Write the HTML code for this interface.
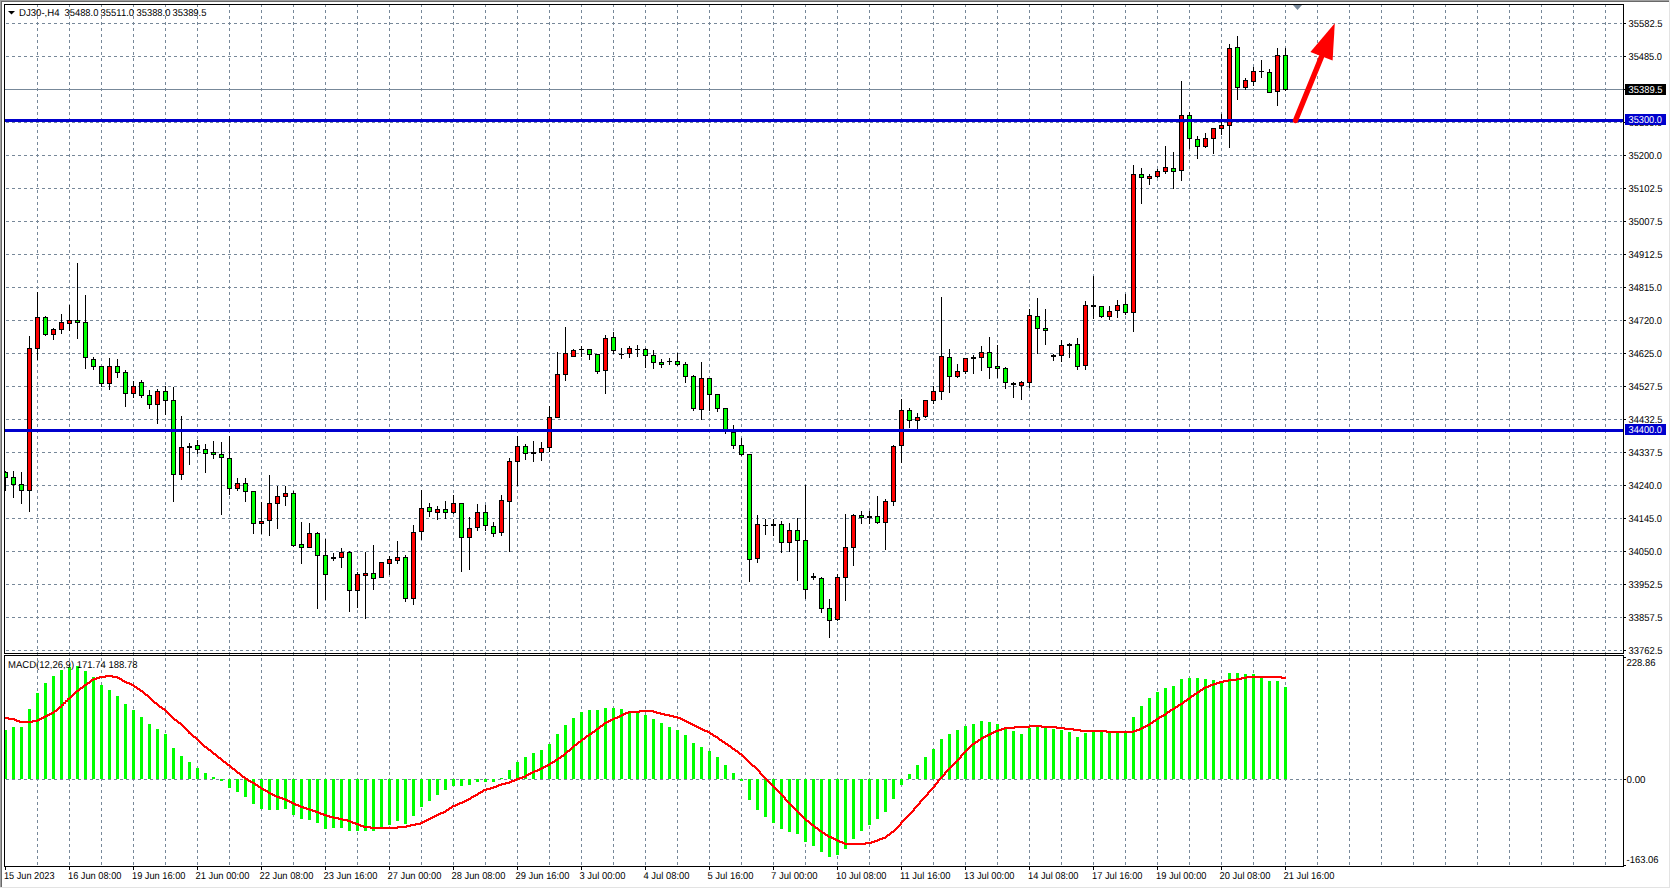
<!DOCTYPE html><html><head><meta charset="utf-8"><title>DJ30 H4</title><style>html,body{margin:0;padding:0;background:#fff;width:1671px;height:889px;overflow:hidden}svg text{font-family:"Liberation Sans", sans-serif}</style></head><body><svg width="1671" height="889" viewBox="0 0 1671 889" style="display:block" font-family='"Liberation Sans", sans-serif'><defs><clipPath id="cm"><rect x="5" y="5" width="1618" height="648"/></clipPath><clipPath id="cd"><rect x="5" y="656" width="1618" height="210"/></clipPath><clipPath id="call"><rect x="5" y="5" width="1618" height="861"/></clipPath><clipPath id="cgm"><rect x="5" y="5" width="1617" height="648"/></clipPath><clipPath id="cgd"><rect x="5" y="656" width="1617" height="210"/></clipPath></defs><rect x="0" y="0" width="1671" height="889" fill="#ffffff"/><g shape-rendering="crispEdges"><rect x="0" y="0" width="1669" height="1" fill="#a0a0a0"/><rect x="0" y="0" width="1" height="887" fill="#a0a0a0"/><rect x="1" y="1" width="1668" height="1" fill="#696969"/><rect x="1" y="1" width="1" height="886" fill="#696969"/><rect x="1669" y="0" width="1" height="888" fill="#e3e3e3"/><rect x="0" y="887" width="1670" height="1" fill="#e3e3e3"/></g><g shape-rendering="crispEdges" stroke="#778899" stroke-width="1" stroke-dasharray="3 3" fill="none"><g clip-path="url(#call)"><line x1="37.5" y1="-2" x2="37.5" y2="870"/><line x1="69.5" y1="-2" x2="69.5" y2="870"/><line x1="101.5" y1="-2" x2="101.5" y2="870"/><line x1="133.5" y1="-2" x2="133.5" y2="870"/><line x1="165.5" y1="-2" x2="165.5" y2="870"/><line x1="197.5" y1="-2" x2="197.5" y2="870"/><line x1="229.5" y1="-2" x2="229.5" y2="870"/><line x1="261.5" y1="-2" x2="261.5" y2="870"/><line x1="293.5" y1="-2" x2="293.5" y2="870"/><line x1="325.5" y1="-2" x2="325.5" y2="870"/><line x1="357.5" y1="-2" x2="357.5" y2="870"/><line x1="389.5" y1="-2" x2="389.5" y2="870"/><line x1="421.5" y1="-2" x2="421.5" y2="870"/><line x1="453.5" y1="-2" x2="453.5" y2="870"/><line x1="485.5" y1="-2" x2="485.5" y2="870"/><line x1="517.5" y1="-2" x2="517.5" y2="870"/><line x1="549.5" y1="-2" x2="549.5" y2="870"/><line x1="581.5" y1="-2" x2="581.5" y2="870"/><line x1="613.5" y1="-2" x2="613.5" y2="870"/><line x1="645.5" y1="-2" x2="645.5" y2="870"/><line x1="677.5" y1="-2" x2="677.5" y2="870"/><line x1="709.5" y1="-2" x2="709.5" y2="870"/><line x1="741.5" y1="-2" x2="741.5" y2="870"/><line x1="773.5" y1="-2" x2="773.5" y2="870"/><line x1="805.5" y1="-2" x2="805.5" y2="870"/><line x1="837.5" y1="-2" x2="837.5" y2="870"/><line x1="869.5" y1="-2" x2="869.5" y2="870"/><line x1="901.5" y1="-2" x2="901.5" y2="870"/><line x1="933.5" y1="-2" x2="933.5" y2="870"/><line x1="965.5" y1="-2" x2="965.5" y2="870"/><line x1="997.5" y1="-2" x2="997.5" y2="870"/><line x1="1029.5" y1="-2" x2="1029.5" y2="870"/><line x1="1061.5" y1="-2" x2="1061.5" y2="870"/><line x1="1093.5" y1="-2" x2="1093.5" y2="870"/><line x1="1125.5" y1="-2" x2="1125.5" y2="870"/><line x1="1157.5" y1="-2" x2="1157.5" y2="870"/><line x1="1189.5" y1="-2" x2="1189.5" y2="870"/><line x1="1221.5" y1="-2" x2="1221.5" y2="870"/><line x1="1253.5" y1="-2" x2="1253.5" y2="870"/><line x1="1285.5" y1="-2" x2="1285.5" y2="870"/><line x1="1317.5" y1="-2" x2="1317.5" y2="870"/><line x1="1349.5" y1="-2" x2="1349.5" y2="870"/><line x1="1381.5" y1="-2" x2="1381.5" y2="870"/><line x1="1413.5" y1="-2" x2="1413.5" y2="870"/><line x1="1445.5" y1="-2" x2="1445.5" y2="870"/><line x1="1477.5" y1="-2" x2="1477.5" y2="870"/><line x1="1509.5" y1="-2" x2="1509.5" y2="870"/><line x1="1541.5" y1="-2" x2="1541.5" y2="870"/><line x1="1573.5" y1="-2" x2="1573.5" y2="870"/><line x1="1605.5" y1="-2" x2="1605.5" y2="870"/></g><g clip-path="url(#cgm)"><line x1="0" y1="23.5" x2="1626" y2="23.5"/><line x1="0" y1="56.5" x2="1626" y2="56.5"/><line x1="0" y1="89.5" x2="1626" y2="89.5"/><line x1="0" y1="122.5" x2="1626" y2="122.5"/><line x1="0" y1="155.5" x2="1626" y2="155.5"/><line x1="0" y1="188.5" x2="1626" y2="188.5"/><line x1="0" y1="221.5" x2="1626" y2="221.5"/><line x1="0" y1="254.5" x2="1626" y2="254.5"/><line x1="0" y1="287.5" x2="1626" y2="287.5"/><line x1="0" y1="320.5" x2="1626" y2="320.5"/><line x1="0" y1="353.5" x2="1626" y2="353.5"/><line x1="0" y1="386.5" x2="1626" y2="386.5"/><line x1="0" y1="419.5" x2="1626" y2="419.5"/><line x1="0" y1="452.5" x2="1626" y2="452.5"/><line x1="0" y1="485.5" x2="1626" y2="485.5"/><line x1="0" y1="518.5" x2="1626" y2="518.5"/><line x1="0" y1="551.5" x2="1626" y2="551.5"/><line x1="0" y1="584.5" x2="1626" y2="584.5"/><line x1="0" y1="617.5" x2="1626" y2="617.5"/><line x1="0" y1="650.5" x2="1626" y2="650.5"/></g><g clip-path="url(#cgd)"><line x1="0" y1="779.5" x2="1626" y2="779.5"/></g></g><rect x="5" y="89" width="1618" height="1" fill="#778899" shape-rendering="crispEdges"/><g clip-path="url(#cm)" shape-rendering="crispEdges"><rect x="5" y="471" width="1" height="20" fill="#000"/><rect x="3" y="472" width="5" height="6" fill="#000"/><rect x="4" y="473" width="3" height="4" fill="#00ff00"/><rect x="13" y="471" width="1" height="27" fill="#000"/><rect x="11" y="477" width="5" height="8" fill="#000"/><rect x="12" y="478" width="3" height="6" fill="#00ff00"/><rect x="21" y="472" width="1" height="32" fill="#000"/><rect x="19" y="484" width="5" height="7" fill="#000"/><rect x="20" y="485" width="3" height="5" fill="#00ff00"/><rect x="29" y="336" width="1" height="176" fill="#000"/><rect x="27" y="348" width="5" height="143" fill="#000"/><rect x="28" y="349" width="3" height="141" fill="#ff0000"/><rect x="37" y="292" width="1" height="68" fill="#000"/><rect x="35" y="317" width="5" height="32" fill="#000"/><rect x="36" y="318" width="3" height="30" fill="#ff0000"/><rect x="45" y="316" width="1" height="20" fill="#000"/><rect x="43" y="317" width="5" height="18" fill="#000"/><rect x="44" y="318" width="3" height="16" fill="#00ff00"/><rect x="53" y="328" width="1" height="12" fill="#000"/><rect x="51" y="329" width="5" height="6" fill="#000"/><rect x="52" y="330" width="3" height="4" fill="#ff0000"/><rect x="61" y="314" width="1" height="20" fill="#000"/><rect x="59" y="322" width="5" height="8" fill="#000"/><rect x="60" y="323" width="3" height="6" fill="#ff0000"/><rect x="69" y="305" width="1" height="26" fill="#000"/><rect x="67" y="320" width="5" height="4" fill="#000"/><rect x="68" y="321" width="3" height="2" fill="#ff0000"/><rect x="77" y="263" width="1" height="76" fill="#000"/><rect x="75" y="320" width="5" height="3" fill="#000"/><rect x="76" y="321" width="3" height="1" fill="#00ff00"/><rect x="85" y="295" width="1" height="74" fill="#000"/><rect x="83" y="322" width="5" height="36" fill="#000"/><rect x="84" y="323" width="3" height="34" fill="#00ff00"/><rect x="93" y="357" width="1" height="13" fill="#000"/><rect x="91" y="359" width="5" height="8" fill="#000"/><rect x="92" y="360" width="3" height="6" fill="#00ff00"/><rect x="101" y="366" width="1" height="21" fill="#000"/><rect x="99" y="366" width="5" height="18" fill="#000"/><rect x="100" y="367" width="3" height="16" fill="#00ff00"/><rect x="109" y="358" width="1" height="32" fill="#000"/><rect x="107" y="366" width="5" height="18" fill="#000"/><rect x="108" y="367" width="3" height="16" fill="#ff0000"/><rect x="117" y="359" width="1" height="19" fill="#000"/><rect x="115" y="366" width="5" height="7" fill="#000"/><rect x="116" y="367" width="3" height="5" fill="#00ff00"/><rect x="125" y="370" width="1" height="37" fill="#000"/><rect x="123" y="372" width="5" height="22" fill="#000"/><rect x="124" y="373" width="3" height="20" fill="#00ff00"/><rect x="133" y="381" width="1" height="17" fill="#000"/><rect x="131" y="386" width="5" height="8" fill="#000"/><rect x="132" y="387" width="3" height="6" fill="#ff0000"/><rect x="141" y="380" width="1" height="18" fill="#000"/><rect x="139" y="382" width="5" height="14" fill="#000"/><rect x="140" y="383" width="3" height="12" fill="#00ff00"/><rect x="149" y="390" width="1" height="19" fill="#000"/><rect x="147" y="395" width="5" height="10" fill="#000"/><rect x="148" y="396" width="3" height="8" fill="#00ff00"/><rect x="157" y="389" width="1" height="35" fill="#000"/><rect x="155" y="391" width="5" height="14" fill="#000"/><rect x="156" y="392" width="3" height="12" fill="#ff0000"/><rect x="165" y="386" width="1" height="29" fill="#000"/><rect x="163" y="391" width="5" height="10" fill="#000"/><rect x="164" y="392" width="3" height="8" fill="#00ff00"/><rect x="173" y="387" width="1" height="115" fill="#000"/><rect x="171" y="400" width="5" height="75" fill="#000"/><rect x="172" y="401" width="3" height="73" fill="#00ff00"/><rect x="181" y="416" width="1" height="64" fill="#000"/><rect x="179" y="447" width="5" height="28" fill="#000"/><rect x="180" y="448" width="3" height="26" fill="#ff0000"/><rect x="189" y="443" width="1" height="22" fill="#000"/><rect x="187" y="446" width="5" height="2" fill="#000"/><rect x="197" y="440" width="1" height="14" fill="#000"/><rect x="195" y="445" width="5" height="5" fill="#000"/><rect x="196" y="446" width="3" height="3" fill="#00ff00"/><rect x="205" y="444" width="1" height="29" fill="#000"/><rect x="203" y="449" width="5" height="5" fill="#000"/><rect x="204" y="450" width="3" height="3" fill="#00ff00"/><rect x="213" y="441" width="1" height="18" fill="#000"/><rect x="211" y="452" width="5" height="3" fill="#000"/><rect x="212" y="453" width="3" height="1" fill="#00ff00"/><rect x="221" y="442" width="1" height="73" fill="#000"/><rect x="219" y="454" width="5" height="4" fill="#000"/><rect x="220" y="455" width="3" height="2" fill="#00ff00"/><rect x="229" y="436" width="1" height="59" fill="#000"/><rect x="227" y="458" width="5" height="31" fill="#000"/><rect x="228" y="459" width="3" height="29" fill="#00ff00"/><rect x="237" y="478" width="1" height="13" fill="#000"/><rect x="235" y="483" width="5" height="6" fill="#000"/><rect x="236" y="484" width="3" height="4" fill="#ff0000"/><rect x="245" y="478" width="1" height="24" fill="#000"/><rect x="243" y="483" width="5" height="9" fill="#000"/><rect x="244" y="484" width="3" height="7" fill="#00ff00"/><rect x="253" y="491" width="1" height="43" fill="#000"/><rect x="251" y="491" width="5" height="33" fill="#000"/><rect x="252" y="492" width="3" height="31" fill="#00ff00"/><rect x="261" y="502" width="1" height="32" fill="#000"/><rect x="259" y="521" width="5" height="3" fill="#000"/><rect x="260" y="522" width="3" height="1" fill="#ff0000"/><rect x="269" y="475" width="1" height="61" fill="#000"/><rect x="267" y="503" width="5" height="18" fill="#000"/><rect x="268" y="504" width="3" height="16" fill="#ff0000"/><rect x="277" y="486" width="1" height="43" fill="#000"/><rect x="275" y="496" width="5" height="8" fill="#000"/><rect x="276" y="497" width="3" height="6" fill="#ff0000"/><rect x="285" y="486" width="1" height="20" fill="#000"/><rect x="283" y="493" width="5" height="4" fill="#000"/><rect x="284" y="494" width="3" height="2" fill="#ff0000"/><rect x="293" y="491" width="1" height="56" fill="#000"/><rect x="291" y="493" width="5" height="53" fill="#000"/><rect x="292" y="494" width="3" height="51" fill="#00ff00"/><rect x="301" y="522" width="1" height="42" fill="#000"/><rect x="299" y="544" width="5" height="4" fill="#000"/><rect x="300" y="545" width="3" height="2" fill="#00ff00"/><rect x="309" y="523" width="1" height="25" fill="#000"/><rect x="307" y="533" width="5" height="15" fill="#000"/><rect x="308" y="534" width="3" height="13" fill="#ff0000"/><rect x="317" y="532" width="1" height="77" fill="#000"/><rect x="315" y="533" width="5" height="23" fill="#000"/><rect x="316" y="534" width="3" height="21" fill="#00ff00"/><rect x="325" y="539" width="1" height="61" fill="#000"/><rect x="323" y="555" width="5" height="20" fill="#000"/><rect x="324" y="556" width="3" height="18" fill="#00ff00"/><rect x="333" y="553" width="1" height="8" fill="#000"/><rect x="331" y="557" width="5" height="2" fill="#000"/><rect x="341" y="548" width="1" height="20" fill="#000"/><rect x="339" y="552" width="5" height="6" fill="#000"/><rect x="340" y="553" width="3" height="4" fill="#ff0000"/><rect x="349" y="551" width="1" height="61" fill="#000"/><rect x="347" y="552" width="5" height="39" fill="#000"/><rect x="348" y="553" width="3" height="37" fill="#00ff00"/><rect x="357" y="572" width="1" height="36" fill="#000"/><rect x="355" y="574" width="5" height="17" fill="#000"/><rect x="356" y="575" width="3" height="15" fill="#ff0000"/><rect x="365" y="552" width="1" height="67" fill="#000"/><rect x="363" y="573" width="5" height="3" fill="#000"/><rect x="364" y="574" width="3" height="1" fill="#ff0000"/><rect x="373" y="545" width="1" height="45" fill="#000"/><rect x="371" y="573" width="5" height="6" fill="#000"/><rect x="372" y="574" width="3" height="4" fill="#00ff00"/><rect x="381" y="562" width="1" height="16" fill="#000"/><rect x="379" y="562" width="5" height="16" fill="#000"/><rect x="380" y="563" width="3" height="14" fill="#ff0000"/><rect x="389" y="556" width="1" height="19" fill="#000"/><rect x="387" y="559" width="5" height="5" fill="#000"/><rect x="388" y="560" width="3" height="3" fill="#ff0000"/><rect x="397" y="541" width="1" height="23" fill="#000"/><rect x="395" y="557" width="5" height="4" fill="#000"/><rect x="396" y="558" width="3" height="2" fill="#ff0000"/><rect x="405" y="555" width="1" height="47" fill="#000"/><rect x="403" y="557" width="5" height="42" fill="#000"/><rect x="404" y="558" width="3" height="40" fill="#00ff00"/><rect x="413" y="525" width="1" height="80" fill="#000"/><rect x="411" y="532" width="5" height="67" fill="#000"/><rect x="412" y="533" width="3" height="65" fill="#ff0000"/><rect x="421" y="490" width="1" height="50" fill="#000"/><rect x="419" y="508" width="5" height="24" fill="#000"/><rect x="420" y="509" width="3" height="22" fill="#ff0000"/><rect x="429" y="503" width="1" height="14" fill="#000"/><rect x="427" y="507" width="5" height="5" fill="#000"/><rect x="428" y="508" width="3" height="3" fill="#00ff00"/><rect x="437" y="506" width="1" height="14" fill="#000"/><rect x="435" y="509" width="5" height="4" fill="#000"/><rect x="436" y="510" width="3" height="2" fill="#ff0000"/><rect x="445" y="501" width="1" height="18" fill="#000"/><rect x="443" y="509" width="5" height="4" fill="#000"/><rect x="444" y="510" width="3" height="2" fill="#00ff00"/><rect x="453" y="495" width="1" height="19" fill="#000"/><rect x="451" y="503" width="5" height="10" fill="#000"/><rect x="452" y="504" width="3" height="8" fill="#ff0000"/><rect x="461" y="503" width="1" height="69" fill="#000"/><rect x="459" y="503" width="5" height="35" fill="#000"/><rect x="460" y="504" width="3" height="33" fill="#00ff00"/><rect x="469" y="517" width="1" height="53" fill="#000"/><rect x="467" y="528" width="5" height="10" fill="#000"/><rect x="468" y="529" width="3" height="8" fill="#ff0000"/><rect x="477" y="504" width="1" height="27" fill="#000"/><rect x="475" y="512" width="5" height="16" fill="#000"/><rect x="476" y="513" width="3" height="14" fill="#ff0000"/><rect x="485" y="505" width="1" height="26" fill="#000"/><rect x="483" y="512" width="5" height="14" fill="#000"/><rect x="484" y="513" width="3" height="12" fill="#00ff00"/><rect x="493" y="522" width="1" height="15" fill="#000"/><rect x="491" y="526" width="5" height="8" fill="#000"/><rect x="492" y="527" width="3" height="6" fill="#00ff00"/><rect x="501" y="495" width="1" height="41" fill="#000"/><rect x="499" y="500" width="5" height="33" fill="#000"/><rect x="500" y="501" width="3" height="31" fill="#ff0000"/><rect x="509" y="458" width="1" height="94" fill="#000"/><rect x="507" y="461" width="5" height="41" fill="#000"/><rect x="508" y="462" width="3" height="39" fill="#ff0000"/><rect x="517" y="436" width="1" height="50" fill="#000"/><rect x="515" y="446" width="5" height="16" fill="#000"/><rect x="516" y="447" width="3" height="14" fill="#ff0000"/><rect x="525" y="444" width="1" height="16" fill="#000"/><rect x="523" y="446" width="5" height="8" fill="#000"/><rect x="524" y="447" width="3" height="6" fill="#00ff00"/><rect x="533" y="441" width="1" height="21" fill="#000"/><rect x="531" y="452" width="5" height="2" fill="#000"/><rect x="541" y="442" width="1" height="19" fill="#000"/><rect x="539" y="448" width="5" height="5" fill="#000"/><rect x="540" y="449" width="3" height="3" fill="#ff0000"/><rect x="549" y="406" width="1" height="46" fill="#000"/><rect x="547" y="417" width="5" height="31" fill="#000"/><rect x="548" y="418" width="3" height="29" fill="#ff0000"/><rect x="557" y="352" width="1" height="66" fill="#000"/><rect x="555" y="374" width="5" height="44" fill="#000"/><rect x="556" y="375" width="3" height="42" fill="#ff0000"/><rect x="565" y="327" width="1" height="54" fill="#000"/><rect x="563" y="353" width="5" height="22" fill="#000"/><rect x="564" y="354" width="3" height="20" fill="#ff0000"/><rect x="573" y="349" width="1" height="8" fill="#000"/><rect x="571" y="350" width="5" height="7" fill="#000"/><rect x="572" y="351" width="3" height="5" fill="#ff0000"/><rect x="581" y="346" width="1" height="11" fill="#000"/><rect x="579" y="349" width="5" height="1" fill="#000"/><rect x="589" y="349" width="1" height="11" fill="#000"/><rect x="587" y="349" width="5" height="6" fill="#000"/><rect x="588" y="350" width="3" height="4" fill="#00ff00"/><rect x="597" y="354" width="1" height="20" fill="#000"/><rect x="595" y="354" width="5" height="18" fill="#000"/><rect x="596" y="355" width="3" height="16" fill="#00ff00"/><rect x="605" y="335" width="1" height="59" fill="#000"/><rect x="603" y="338" width="5" height="33" fill="#000"/><rect x="604" y="339" width="3" height="31" fill="#ff0000"/><rect x="613" y="332" width="1" height="22" fill="#000"/><rect x="611" y="337" width="5" height="14" fill="#000"/><rect x="612" y="338" width="3" height="12" fill="#00ff00"/><rect x="621" y="348" width="1" height="11" fill="#000"/><rect x="619" y="354" width="5" height="1" fill="#000"/><rect x="629" y="346" width="1" height="12" fill="#000"/><rect x="627" y="348" width="5" height="6" fill="#000"/><rect x="628" y="349" width="3" height="4" fill="#ff0000"/><rect x="637" y="345" width="1" height="12" fill="#000"/><rect x="635" y="349" width="5" height="1" fill="#000"/><rect x="645" y="348" width="1" height="20" fill="#000"/><rect x="643" y="349" width="5" height="7" fill="#000"/><rect x="644" y="350" width="3" height="5" fill="#00ff00"/><rect x="653" y="350" width="1" height="19" fill="#000"/><rect x="651" y="355" width="5" height="8" fill="#000"/><rect x="652" y="356" width="3" height="6" fill="#00ff00"/><rect x="661" y="359" width="1" height="9" fill="#000"/><rect x="659" y="362" width="5" height="3" fill="#000"/><rect x="660" y="363" width="3" height="1" fill="#00ff00"/><rect x="669" y="358" width="1" height="7" fill="#000"/><rect x="667" y="361" width="5" height="1" fill="#000"/><rect x="677" y="353" width="1" height="13" fill="#000"/><rect x="675" y="361" width="5" height="4" fill="#000"/><rect x="676" y="362" width="3" height="2" fill="#00ff00"/><rect x="685" y="362" width="1" height="21" fill="#000"/><rect x="683" y="364" width="5" height="13" fill="#000"/><rect x="684" y="365" width="3" height="11" fill="#00ff00"/><rect x="693" y="375" width="1" height="36" fill="#000"/><rect x="691" y="376" width="5" height="33" fill="#000"/><rect x="692" y="377" width="3" height="31" fill="#00ff00"/><rect x="701" y="362" width="1" height="58" fill="#000"/><rect x="699" y="378" width="5" height="32" fill="#000"/><rect x="700" y="379" width="3" height="30" fill="#ff0000"/><rect x="709" y="378" width="1" height="33" fill="#000"/><rect x="707" y="378" width="5" height="17" fill="#000"/><rect x="708" y="379" width="3" height="15" fill="#00ff00"/><rect x="717" y="394" width="1" height="18" fill="#000"/><rect x="715" y="394" width="5" height="15" fill="#000"/><rect x="716" y="395" width="3" height="13" fill="#00ff00"/><rect x="725" y="408" width="1" height="26" fill="#000"/><rect x="723" y="408" width="5" height="22" fill="#000"/><rect x="724" y="409" width="3" height="20" fill="#00ff00"/><rect x="733" y="425" width="1" height="24" fill="#000"/><rect x="731" y="432" width="5" height="14" fill="#000"/><rect x="732" y="433" width="3" height="12" fill="#00ff00"/><rect x="741" y="438" width="1" height="18" fill="#000"/><rect x="739" y="445" width="5" height="10" fill="#000"/><rect x="740" y="446" width="3" height="8" fill="#00ff00"/><rect x="749" y="454" width="1" height="128" fill="#000"/><rect x="747" y="454" width="5" height="106" fill="#000"/><rect x="748" y="455" width="3" height="104" fill="#00ff00"/><rect x="757" y="515" width="1" height="48" fill="#000"/><rect x="755" y="524" width="5" height="35" fill="#000"/><rect x="756" y="525" width="3" height="33" fill="#ff0000"/><rect x="765" y="519" width="1" height="16" fill="#000"/><rect x="763" y="525" width="5" height="1" fill="#000"/><rect x="773" y="519" width="1" height="17" fill="#000"/><rect x="771" y="524" width="5" height="2" fill="#000"/><rect x="781" y="521" width="1" height="32" fill="#000"/><rect x="779" y="524" width="5" height="19" fill="#000"/><rect x="780" y="525" width="3" height="17" fill="#00ff00"/><rect x="789" y="523" width="1" height="29" fill="#000"/><rect x="787" y="530" width="5" height="13" fill="#000"/><rect x="788" y="531" width="3" height="11" fill="#ff0000"/><rect x="797" y="518" width="1" height="63" fill="#000"/><rect x="795" y="530" width="5" height="11" fill="#000"/><rect x="796" y="531" width="3" height="9" fill="#00ff00"/><rect x="805" y="485" width="1" height="114" fill="#000"/><rect x="803" y="540" width="5" height="50" fill="#000"/><rect x="804" y="541" width="3" height="48" fill="#00ff00"/><rect x="813" y="573" width="1" height="7" fill="#000"/><rect x="811" y="576" width="5" height="2" fill="#000"/><rect x="821" y="577" width="1" height="36" fill="#000"/><rect x="819" y="578" width="5" height="31" fill="#000"/><rect x="820" y="579" width="3" height="29" fill="#00ff00"/><rect x="829" y="599" width="1" height="39" fill="#000"/><rect x="827" y="608" width="5" height="13" fill="#000"/><rect x="828" y="609" width="3" height="11" fill="#00ff00"/><rect x="837" y="574" width="1" height="47" fill="#000"/><rect x="835" y="577" width="5" height="43" fill="#000"/><rect x="836" y="578" width="3" height="41" fill="#ff0000"/><rect x="845" y="514" width="1" height="87" fill="#000"/><rect x="843" y="547" width="5" height="31" fill="#000"/><rect x="844" y="548" width="3" height="29" fill="#ff0000"/><rect x="853" y="514" width="1" height="52" fill="#000"/><rect x="851" y="515" width="5" height="33" fill="#000"/><rect x="852" y="516" width="3" height="31" fill="#ff0000"/><rect x="861" y="511" width="1" height="13" fill="#000"/><rect x="859" y="515" width="5" height="3" fill="#000"/><rect x="860" y="516" width="3" height="1" fill="#00ff00"/><rect x="869" y="511" width="1" height="13" fill="#000"/><rect x="867" y="516" width="5" height="2" fill="#000"/><rect x="877" y="496" width="1" height="28" fill="#000"/><rect x="875" y="516" width="5" height="7" fill="#000"/><rect x="876" y="517" width="3" height="5" fill="#00ff00"/><rect x="885" y="499" width="1" height="51" fill="#000"/><rect x="883" y="501" width="5" height="22" fill="#000"/><rect x="884" y="502" width="3" height="20" fill="#ff0000"/><rect x="893" y="445" width="1" height="61" fill="#000"/><rect x="891" y="446" width="5" height="56" fill="#000"/><rect x="892" y="447" width="3" height="54" fill="#ff0000"/><rect x="901" y="399" width="1" height="64" fill="#000"/><rect x="899" y="410" width="5" height="36" fill="#000"/><rect x="900" y="411" width="3" height="34" fill="#ff0000"/><rect x="909" y="408" width="1" height="20" fill="#000"/><rect x="907" y="410" width="5" height="11" fill="#000"/><rect x="908" y="411" width="3" height="9" fill="#00ff00"/><rect x="917" y="413" width="1" height="17" fill="#000"/><rect x="915" y="417" width="5" height="4" fill="#000"/><rect x="916" y="418" width="3" height="2" fill="#ff0000"/><rect x="925" y="400" width="1" height="18" fill="#000"/><rect x="923" y="400" width="5" height="17" fill="#000"/><rect x="924" y="401" width="3" height="15" fill="#ff0000"/><rect x="933" y="386" width="1" height="18" fill="#000"/><rect x="931" y="391" width="5" height="10" fill="#000"/><rect x="932" y="392" width="3" height="8" fill="#ff0000"/><rect x="941" y="297" width="1" height="103" fill="#000"/><rect x="939" y="356" width="5" height="36" fill="#000"/><rect x="940" y="357" width="3" height="34" fill="#ff0000"/><rect x="949" y="349" width="1" height="44" fill="#000"/><rect x="947" y="357" width="5" height="20" fill="#000"/><rect x="948" y="358" width="3" height="18" fill="#00ff00"/><rect x="957" y="364" width="1" height="14" fill="#000"/><rect x="955" y="371" width="5" height="6" fill="#000"/><rect x="956" y="372" width="3" height="4" fill="#ff0000"/><rect x="965" y="358" width="1" height="16" fill="#000"/><rect x="963" y="358" width="5" height="14" fill="#000"/><rect x="964" y="359" width="3" height="12" fill="#ff0000"/><rect x="973" y="355" width="1" height="19" fill="#000"/><rect x="971" y="357" width="5" height="2" fill="#000"/><rect x="981" y="346" width="1" height="25" fill="#000"/><rect x="979" y="352" width="5" height="6" fill="#000"/><rect x="980" y="353" width="3" height="4" fill="#ff0000"/><rect x="989" y="337" width="1" height="42" fill="#000"/><rect x="987" y="352" width="5" height="16" fill="#000"/><rect x="988" y="353" width="3" height="14" fill="#00ff00"/><rect x="997" y="345" width="1" height="33" fill="#000"/><rect x="995" y="366" width="5" height="3" fill="#000"/><rect x="996" y="367" width="3" height="1" fill="#00ff00"/><rect x="1005" y="367" width="1" height="22" fill="#000"/><rect x="1003" y="368" width="5" height="15" fill="#000"/><rect x="1004" y="369" width="3" height="13" fill="#00ff00"/><rect x="1013" y="382" width="1" height="16" fill="#000"/><rect x="1011" y="383" width="5" height="2" fill="#000"/><rect x="1021" y="381" width="1" height="19" fill="#000"/><rect x="1019" y="382" width="5" height="4" fill="#000"/><rect x="1020" y="383" width="3" height="2" fill="#ff0000"/><rect x="1029" y="309" width="1" height="79" fill="#000"/><rect x="1027" y="315" width="5" height="68" fill="#000"/><rect x="1028" y="316" width="3" height="66" fill="#ff0000"/><rect x="1037" y="298" width="1" height="56" fill="#000"/><rect x="1035" y="316" width="5" height="13" fill="#000"/><rect x="1036" y="317" width="3" height="11" fill="#00ff00"/><rect x="1045" y="309" width="1" height="36" fill="#000"/><rect x="1043" y="328" width="5" height="3" fill="#000"/><rect x="1044" y="329" width="3" height="1" fill="#00ff00"/><rect x="1053" y="354" width="1" height="7" fill="#000"/><rect x="1051" y="355" width="5" height="2" fill="#000"/><rect x="1061" y="340" width="1" height="22" fill="#000"/><rect x="1059" y="345" width="5" height="11" fill="#000"/><rect x="1060" y="346" width="3" height="9" fill="#ff0000"/><rect x="1069" y="343" width="1" height="15" fill="#000"/><rect x="1067" y="344" width="5" height="2" fill="#000"/><rect x="1077" y="338" width="1" height="32" fill="#000"/><rect x="1075" y="344" width="5" height="23" fill="#000"/><rect x="1076" y="345" width="3" height="21" fill="#00ff00"/><rect x="1085" y="301" width="1" height="69" fill="#000"/><rect x="1083" y="305" width="5" height="61" fill="#000"/><rect x="1084" y="306" width="3" height="59" fill="#ff0000"/><rect x="1093" y="276" width="1" height="43" fill="#000"/><rect x="1091" y="305" width="5" height="2" fill="#000"/><rect x="1101" y="306" width="1" height="12" fill="#000"/><rect x="1099" y="306" width="5" height="11" fill="#000"/><rect x="1100" y="307" width="3" height="9" fill="#00ff00"/><rect x="1109" y="306" width="1" height="14" fill="#000"/><rect x="1107" y="311" width="5" height="6" fill="#000"/><rect x="1108" y="312" width="3" height="4" fill="#ff0000"/><rect x="1117" y="300" width="1" height="18" fill="#000"/><rect x="1115" y="305" width="5" height="6" fill="#000"/><rect x="1116" y="306" width="3" height="4" fill="#ff0000"/><rect x="1125" y="294" width="1" height="21" fill="#000"/><rect x="1123" y="304" width="5" height="9" fill="#000"/><rect x="1124" y="305" width="3" height="7" fill="#00ff00"/><rect x="1133" y="165" width="1" height="167" fill="#000"/><rect x="1131" y="174" width="5" height="139" fill="#000"/><rect x="1132" y="175" width="3" height="137" fill="#ff0000"/><rect x="1141" y="168" width="1" height="36" fill="#000"/><rect x="1139" y="174" width="5" height="4" fill="#000"/><rect x="1140" y="175" width="3" height="2" fill="#00ff00"/><rect x="1149" y="174" width="1" height="11" fill="#000"/><rect x="1147" y="176" width="5" height="3" fill="#000"/><rect x="1148" y="177" width="3" height="1" fill="#ff0000"/><rect x="1157" y="169" width="1" height="9" fill="#000"/><rect x="1155" y="171" width="5" height="6" fill="#000"/><rect x="1156" y="172" width="3" height="4" fill="#ff0000"/><rect x="1165" y="146" width="1" height="28" fill="#000"/><rect x="1163" y="167" width="5" height="5" fill="#000"/><rect x="1164" y="168" width="3" height="3" fill="#ff0000"/><rect x="1173" y="152" width="1" height="37" fill="#000"/><rect x="1171" y="168" width="5" height="4" fill="#000"/><rect x="1172" y="169" width="3" height="2" fill="#00ff00"/><rect x="1181" y="81" width="1" height="100" fill="#000"/><rect x="1179" y="115" width="5" height="56" fill="#000"/><rect x="1180" y="116" width="3" height="54" fill="#ff0000"/><rect x="1189" y="112" width="1" height="37" fill="#000"/><rect x="1187" y="115" width="5" height="24" fill="#000"/><rect x="1188" y="116" width="3" height="22" fill="#00ff00"/><rect x="1197" y="136" width="1" height="23" fill="#000"/><rect x="1195" y="139" width="5" height="8" fill="#000"/><rect x="1196" y="140" width="3" height="6" fill="#00ff00"/><rect x="1205" y="133" width="1" height="15" fill="#000"/><rect x="1203" y="138" width="5" height="9" fill="#000"/><rect x="1204" y="139" width="3" height="7" fill="#ff0000"/><rect x="1213" y="128" width="1" height="26" fill="#000"/><rect x="1211" y="128" width="5" height="11" fill="#000"/><rect x="1212" y="129" width="3" height="9" fill="#ff0000"/><rect x="1221" y="114" width="1" height="21" fill="#000"/><rect x="1219" y="125" width="5" height="4" fill="#000"/><rect x="1220" y="126" width="3" height="2" fill="#ff0000"/><rect x="1229" y="44" width="1" height="104" fill="#000"/><rect x="1227" y="48" width="5" height="78" fill="#000"/><rect x="1228" y="49" width="3" height="76" fill="#ff0000"/><rect x="1237" y="36" width="1" height="64" fill="#000"/><rect x="1235" y="47" width="5" height="41" fill="#000"/><rect x="1236" y="48" width="3" height="39" fill="#00ff00"/><rect x="1245" y="78" width="1" height="12" fill="#000"/><rect x="1243" y="80" width="5" height="8" fill="#000"/><rect x="1244" y="81" width="3" height="6" fill="#ff0000"/><rect x="1253" y="67" width="1" height="19" fill="#000"/><rect x="1251" y="71" width="5" height="11" fill="#000"/><rect x="1252" y="72" width="3" height="9" fill="#ff0000"/><rect x="1261" y="60" width="1" height="18" fill="#000"/><rect x="1259" y="71" width="5" height="1" fill="#000"/><rect x="1269" y="69" width="1" height="24" fill="#000"/><rect x="1267" y="72" width="5" height="21" fill="#000"/><rect x="1268" y="73" width="3" height="19" fill="#00ff00"/><rect x="1277" y="48" width="1" height="58" fill="#000"/><rect x="1275" y="55" width="5" height="37" fill="#000"/><rect x="1276" y="56" width="3" height="35" fill="#ff0000"/><rect x="1285" y="48" width="1" height="43" fill="#000"/><rect x="1283" y="55" width="5" height="35" fill="#000"/><rect x="1284" y="56" width="3" height="33" fill="#00ff00"/></g><g clip-path="url(#cd)" shape-rendering="crispEdges" fill="#00ff00"><rect x="4" y="730" width="3" height="49"/><rect x="12" y="727" width="3" height="52"/><rect x="20" y="727" width="3" height="52"/><rect x="28" y="709" width="3" height="70"/><rect x="36" y="693" width="3" height="86"/><rect x="44" y="683" width="3" height="96"/><rect x="52" y="676" width="3" height="103"/><rect x="60" y="670" width="3" height="109"/><rect x="68" y="667" width="3" height="112"/><rect x="76" y="666" width="3" height="113"/><rect x="84" y="671" width="3" height="108"/><rect x="92" y="677" width="3" height="102"/><rect x="100" y="685" width="3" height="94"/><rect x="108" y="690" width="3" height="89"/><rect x="116" y="696" width="3" height="83"/><rect x="124" y="704" width="3" height="75"/><rect x="132" y="710" width="3" height="69"/><rect x="140" y="717" width="3" height="62"/><rect x="148" y="724" width="3" height="55"/><rect x="156" y="729" width="3" height="50"/><rect x="164" y="734" width="3" height="45"/><rect x="172" y="748" width="3" height="31"/><rect x="180" y="756" width="3" height="23"/><rect x="188" y="762" width="3" height="17"/><rect x="196" y="768" width="3" height="11"/><rect x="204" y="773" width="3" height="6"/><rect x="212" y="777" width="3" height="2"/><rect x="220" y="779" width="3" height="2"/><rect x="228" y="779" width="3" height="9"/><rect x="236" y="779" width="3" height="13"/><rect x="244" y="779" width="3" height="18"/><rect x="252" y="779" width="3" height="25"/><rect x="260" y="779" width="3" height="30"/><rect x="268" y="779" width="3" height="31"/><rect x="276" y="779" width="3" height="31"/><rect x="284" y="779" width="3" height="30"/><rect x="292" y="779" width="3" height="36"/><rect x="300" y="779" width="3" height="40"/><rect x="308" y="779" width="3" height="41"/><rect x="316" y="779" width="3" height="44"/><rect x="324" y="779" width="3" height="50"/><rect x="332" y="779" width="3" height="49"/><rect x="340" y="779" width="3" height="49"/><rect x="348" y="779" width="3" height="52"/><rect x="356" y="779" width="3" height="52"/><rect x="364" y="779" width="3" height="52"/><rect x="372" y="779" width="3" height="52"/><rect x="380" y="779" width="3" height="48"/><rect x="388" y="779" width="3" height="46"/><rect x="396" y="779" width="3" height="42"/><rect x="404" y="779" width="3" height="45"/><rect x="412" y="779" width="3" height="37"/><rect x="420" y="779" width="3" height="28"/><rect x="428" y="779" width="3" height="22"/><rect x="436" y="779" width="3" height="16"/><rect x="444" y="779" width="3" height="11"/><rect x="452" y="779" width="3" height="7"/><rect x="460" y="779" width="3" height="7"/><rect x="468" y="779" width="3" height="6"/><rect x="476" y="779" width="3" height="3"/><rect x="484" y="779" width="3" height="3"/><rect x="492" y="779" width="3" height="3"/><rect x="500" y="778" width="3" height="1"/><rect x="508" y="770" width="3" height="9"/><rect x="516" y="762" width="3" height="17"/><rect x="524" y="757" width="3" height="22"/><rect x="532" y="753" width="3" height="26"/><rect x="540" y="750" width="3" height="29"/><rect x="548" y="744" width="3" height="35"/><rect x="556" y="734" width="3" height="45"/><rect x="564" y="725" width="3" height="54"/><rect x="572" y="718" width="3" height="61"/><rect x="580" y="712" width="3" height="67"/><rect x="588" y="710" width="3" height="69"/><rect x="596" y="710" width="3" height="69"/><rect x="604" y="708" width="3" height="71"/><rect x="612" y="708" width="3" height="71"/><rect x="620" y="709" width="3" height="70"/><rect x="628" y="711" width="3" height="68"/><rect x="636" y="712" width="3" height="67"/><rect x="644" y="715" width="3" height="64"/><rect x="652" y="719" width="3" height="60"/><rect x="660" y="723" width="3" height="56"/><rect x="668" y="727" width="3" height="52"/><rect x="676" y="730" width="3" height="49"/><rect x="684" y="735" width="3" height="44"/><rect x="692" y="743" width="3" height="36"/><rect x="700" y="747" width="3" height="32"/><rect x="708" y="751" width="3" height="28"/><rect x="716" y="757" width="3" height="22"/><rect x="724" y="765" width="3" height="14"/><rect x="732" y="773" width="3" height="6"/><rect x="740" y="779" width="3" height="2"/><rect x="748" y="779" width="3" height="21"/><rect x="756" y="779" width="3" height="31"/><rect x="764" y="779" width="3" height="38"/><rect x="772" y="779" width="3" height="44"/><rect x="780" y="779" width="3" height="50"/><rect x="788" y="779" width="3" height="53"/><rect x="796" y="779" width="3" height="55"/><rect x="804" y="779" width="3" height="63"/><rect x="812" y="779" width="3" height="67"/><rect x="820" y="779" width="3" height="73"/><rect x="828" y="779" width="3" height="78"/><rect x="836" y="779" width="3" height="76"/><rect x="844" y="779" width="3" height="70"/><rect x="852" y="779" width="3" height="60"/><rect x="860" y="779" width="3" height="52"/><rect x="868" y="779" width="3" height="46"/><rect x="876" y="779" width="3" height="40"/><rect x="884" y="779" width="3" height="33"/><rect x="892" y="779" width="3" height="20"/><rect x="900" y="779" width="3" height="6"/><rect x="908" y="774" width="3" height="5"/><rect x="916" y="765" width="3" height="14"/><rect x="924" y="757" width="3" height="22"/><rect x="932" y="749" width="3" height="30"/><rect x="940" y="739" width="3" height="40"/><rect x="948" y="734" width="3" height="45"/><rect x="956" y="730" width="3" height="49"/><rect x="964" y="726" width="3" height="53"/><rect x="972" y="724" width="3" height="55"/><rect x="980" y="721" width="3" height="58"/><rect x="988" y="722" width="3" height="57"/><rect x="996" y="724" width="3" height="55"/><rect x="1004" y="727" width="3" height="52"/><rect x="1012" y="731" width="3" height="48"/><rect x="1020" y="734" width="3" height="45"/><rect x="1028" y="728" width="3" height="51"/><rect x="1036" y="727" width="3" height="52"/><rect x="1044" y="728" width="3" height="51"/><rect x="1052" y="729" width="3" height="50"/><rect x="1060" y="730" width="3" height="49"/><rect x="1068" y="732" width="3" height="47"/><rect x="1076" y="737" width="3" height="42"/><rect x="1084" y="733" width="3" height="46"/><rect x="1092" y="732" width="3" height="47"/><rect x="1100" y="732" width="3" height="47"/><rect x="1108" y="732" width="3" height="47"/><rect x="1116" y="733" width="3" height="46"/><rect x="1124" y="733" width="3" height="46"/><rect x="1132" y="717" width="3" height="62"/><rect x="1140" y="706" width="3" height="73"/><rect x="1148" y="698" width="3" height="81"/><rect x="1156" y="692" width="3" height="87"/><rect x="1164" y="688" width="3" height="91"/><rect x="1172" y="686" width="3" height="93"/><rect x="1180" y="679" width="3" height="100"/><rect x="1188" y="678" width="3" height="101"/><rect x="1196" y="678" width="3" height="101"/><rect x="1204" y="679" width="3" height="100"/><rect x="1212" y="680" width="3" height="99"/><rect x="1220" y="681" width="3" height="98"/><rect x="1228" y="673" width="3" height="106"/><rect x="1236" y="673" width="3" height="106"/><rect x="1244" y="674" width="3" height="105"/><rect x="1252" y="674" width="3" height="105"/><rect x="1260" y="677" width="3" height="102"/><rect x="1268" y="681" width="3" height="98"/><rect x="1276" y="681" width="3" height="98"/><rect x="1284" y="687" width="3" height="92"/></g><g clip-path="url(#cd)" shape-rendering="crispEdges"><path d="M4 717h1v2h-1zM5 717h1v2h-1zM6 717h1v2h-1zM7 717h1v2h-1zM8 717h1v3h-1zM9 718h1v2h-1zM10 718h1v2h-1zM11 718h1v2h-1zM12 718h1v2h-1zM13 718h1v2h-1zM14 718h1v3h-1zM15 719h1v2h-1zM16 719h1v3h-1zM17 720h1v2h-1zM18 720h1v2h-1zM19 720h1v3h-1zM20 721h1v2h-1zM21 721h1v2h-1zM22 721h1v2h-1zM23 721h1v2h-1zM24 721h1v2h-1zM25 721h1v2h-1zM26 721h1v2h-1zM27 721h1v2h-1zM28 721h1v2h-1zM29 721h1v2h-1zM30 721h1v2h-1zM31 721h1v2h-1zM32 720h1v3h-1zM33 720h1v2h-1zM34 720h1v2h-1zM35 720h1v2h-1zM36 720h1v2h-1zM37 719h1v3h-1zM38 719h1v2h-1zM39 718h1v3h-1zM40 718h1v2h-1zM41 717h1v3h-1zM42 717h1v2h-1zM43 716h1v3h-1zM44 716h1v2h-1zM45 715h1v3h-1zM46 715h1v2h-1zM47 714h1v3h-1zM48 714h1v2h-1zM49 713h1v3h-1zM50 713h1v2h-1zM51 712h1v3h-1zM52 712h1v2h-1zM53 711h1v3h-1zM54 710h1v3h-1zM55 710h1v2h-1zM56 709h1v3h-1zM57 708h1v3h-1zM58 707h1v3h-1zM59 706h1v3h-1zM60 706h1v2h-1zM61 704h1v4h-1zM62 704h1v2h-1zM63 702h1v4h-1zM64 702h1v2h-1zM65 700h1v4h-1zM66 700h1v2h-1zM67 698h1v4h-1zM68 698h1v2h-1zM69 697h1v3h-1zM70 696h1v3h-1zM71 695h1v3h-1zM72 694h1v3h-1zM73 693h1v3h-1zM74 692h1v3h-1zM75 691h1v3h-1zM76 690h1v3h-1zM77 690h1v2h-1zM78 689h1v3h-1zM79 688h1v3h-1zM80 687h1v3h-1zM81 687h1v2h-1zM82 686h1v3h-1zM83 685h1v3h-1zM84 684h1v3h-1zM85 684h1v2h-1zM86 683h1v3h-1zM87 682h1v3h-1zM88 682h1v2h-1zM89 681h1v3h-1zM90 680h1v3h-1zM91 679h1v3h-1zM92 679h1v2h-1zM93 678h1v3h-1zM94 678h1v2h-1zM95 678h1v2h-1zM96 677h1v3h-1zM97 677h1v2h-1zM98 677h1v2h-1zM99 676h1v3h-1zM100 676h1v2h-1zM101 676h1v2h-1zM102 676h1v2h-1zM103 676h1v2h-1zM104 676h1v2h-1zM105 675h1v3h-1zM106 675h1v2h-1zM107 675h1v2h-1zM108 675h1v2h-1zM109 675h1v2h-1zM110 675h1v2h-1zM111 675h1v2h-1zM112 675h1v3h-1zM113 676h1v2h-1zM114 676h1v2h-1zM115 676h1v2h-1zM116 676h1v2h-1zM117 676h1v3h-1zM118 677h1v2h-1zM119 677h1v3h-1zM120 678h1v2h-1zM121 678h1v3h-1zM122 679h1v3h-1zM123 680h1v2h-1zM124 680h1v3h-1zM125 681h1v2h-1zM126 681h1v3h-1zM127 682h1v2h-1zM128 682h1v2h-1zM129 682h1v3h-1zM130 683h1v2h-1zM131 683h1v3h-1zM132 684h1v2h-1zM133 684h1v3h-1zM134 685h1v3h-1zM135 686h1v2h-1zM136 686h1v3h-1zM137 687h1v3h-1zM138 688h1v2h-1zM139 688h1v3h-1zM140 689h1v3h-1zM141 690h1v2h-1zM142 690h1v3h-1zM143 691h1v3h-1zM144 692h1v3h-1zM145 693h1v3h-1zM146 694h1v2h-1zM147 694h1v3h-1zM148 695h1v3h-1zM149 696h1v3h-1zM150 697h1v3h-1zM151 698h1v3h-1zM152 699h1v3h-1zM153 700h1v3h-1zM154 701h1v3h-1zM155 702h1v2h-1zM156 702h1v3h-1zM157 703h1v3h-1zM158 704h1v3h-1zM159 705h1v3h-1zM160 706h1v2h-1zM161 706h1v3h-1zM162 707h1v3h-1zM163 708h1v2h-1zM164 708h1v3h-1zM165 709h1v3h-1zM166 710h1v3h-1zM167 711h1v3h-1zM168 712h1v3h-1zM169 713h1v3h-1zM170 714h1v3h-1zM171 715h1v3h-1zM172 716h1v3h-1zM173 717h1v3h-1zM174 718h1v3h-1zM175 719h1v2h-1zM176 719h1v3h-1zM177 720h1v3h-1zM178 721h1v3h-1zM179 722h1v2h-1zM180 722h1v3h-1zM181 723h1v3h-1zM182 724h1v3h-1zM183 725h1v3h-1zM184 726h1v3h-1zM185 727h1v3h-1zM186 728h1v3h-1zM187 729h1v3h-1zM188 730h1v4h-1zM189 731h1v3h-1zM190 732h1v3h-1zM191 733h1v3h-1zM192 734h1v3h-1zM193 735h1v3h-1zM194 736h1v2h-1zM195 736h1v3h-1zM196 737h1v3h-1zM197 738h1v3h-1zM198 739h1v3h-1zM199 740h1v3h-1zM200 741h1v3h-1zM201 742h1v3h-1zM202 743h1v3h-1zM203 744h1v3h-1zM204 745h1v3h-1zM205 746h1v2h-1zM206 746h1v3h-1zM207 747h1v3h-1zM208 748h1v3h-1zM209 749h1v2h-1zM210 749h1v3h-1zM211 750h1v3h-1zM212 751h1v3h-1zM213 752h1v3h-1zM214 753h1v2h-1zM215 753h1v3h-1zM216 754h1v3h-1zM217 755h1v3h-1zM218 756h1v3h-1zM219 757h1v2h-1zM220 757h1v3h-1zM221 758h1v3h-1zM222 759h1v3h-1zM223 760h1v3h-1zM224 761h1v2h-1zM225 761h1v3h-1zM226 762h1v3h-1zM227 763h1v3h-1zM228 764h1v2h-1zM229 764h1v3h-1zM230 765h1v3h-1zM231 766h1v3h-1zM232 767h1v3h-1zM233 768h1v2h-1zM234 768h1v3h-1zM235 769h1v3h-1zM236 770h1v3h-1zM237 771h1v3h-1zM238 772h1v2h-1zM239 772h1v3h-1zM240 773h1v3h-1zM241 774h1v3h-1zM242 775h1v3h-1zM243 776h1v2h-1zM244 776h1v3h-1zM245 777h1v3h-1zM246 778h1v2h-1zM247 778h1v3h-1zM248 779h1v3h-1zM249 780h1v2h-1zM250 780h1v3h-1zM251 781h1v2h-1zM252 781h1v3h-1zM253 782h1v2h-1zM254 782h1v3h-1zM255 783h1v3h-1zM256 784h1v2h-1zM257 784h1v3h-1zM258 785h1v3h-1zM259 786h1v2h-1zM260 786h1v3h-1zM261 787h1v3h-1zM262 788h1v2h-1zM263 788h1v3h-1zM264 789h1v2h-1zM265 789h1v3h-1zM266 790h1v2h-1zM267 790h1v3h-1zM268 791h1v3h-1zM269 792h1v2h-1zM270 792h1v3h-1zM271 793h1v2h-1zM272 793h1v3h-1zM273 794h1v2h-1zM274 794h1v3h-1zM275 795h1v2h-1zM276 795h1v3h-1zM277 796h1v2h-1zM278 796h1v2h-1zM279 796h1v3h-1zM280 797h1v2h-1zM281 797h1v2h-1zM282 797h1v3h-1zM283 798h1v2h-1zM284 798h1v2h-1zM285 798h1v3h-1zM286 799h1v2h-1zM287 799h1v3h-1zM288 800h1v2h-1zM289 800h1v3h-1zM290 801h1v2h-1zM291 801h1v3h-1zM292 802h1v2h-1zM293 802h1v3h-1zM294 803h1v2h-1zM295 803h1v3h-1zM296 804h1v2h-1zM297 804h1v2h-1zM298 804h1v3h-1zM299 805h1v2h-1zM300 805h1v3h-1zM301 806h1v2h-1zM302 806h1v2h-1zM303 806h1v3h-1zM304 807h1v2h-1zM305 807h1v2h-1zM306 807h1v3h-1zM307 808h1v2h-1zM308 808h1v2h-1zM309 808h1v3h-1zM310 809h1v2h-1zM311 809h1v2h-1zM312 809h1v3h-1zM313 810h1v2h-1zM314 810h1v2h-1zM315 810h1v3h-1zM316 811h1v2h-1zM317 811h1v2h-1zM318 811h1v3h-1zM319 812h1v2h-1zM320 812h1v3h-1zM321 813h1v2h-1zM322 813h1v2h-1zM323 813h1v3h-1zM324 814h1v2h-1zM325 814h1v2h-1zM326 814h1v3h-1zM327 815h1v2h-1zM328 815h1v2h-1zM329 815h1v3h-1zM330 816h1v2h-1zM331 816h1v2h-1zM332 816h1v2h-1zM333 816h1v3h-1zM334 817h1v2h-1zM335 817h1v2h-1zM336 817h1v2h-1zM337 817h1v2h-1zM338 817h1v3h-1zM339 818h1v2h-1zM340 818h1v2h-1zM341 818h1v2h-1zM342 818h1v3h-1zM343 819h1v2h-1zM344 819h1v2h-1zM345 819h1v2h-1zM346 819h1v2h-1zM347 819h1v3h-1zM348 820h1v2h-1zM349 820h1v2h-1zM350 820h1v3h-1zM351 821h1v2h-1zM352 821h1v3h-1zM353 822h1v2h-1zM354 822h1v2h-1zM355 822h1v3h-1zM356 823h1v2h-1zM357 823h1v2h-1zM358 823h1v3h-1zM359 824h1v2h-1zM360 824h1v3h-1zM361 825h1v2h-1zM362 825h1v2h-1zM363 825h1v3h-1zM364 826h1v2h-1zM365 826h1v2h-1zM366 826h1v2h-1zM367 826h1v2h-1zM368 826h1v2h-1zM369 826h1v2h-1zM370 826h1v3h-1zM371 827h1v2h-1zM372 827h1v2h-1zM373 827h1v2h-1zM374 827h1v2h-1zM375 827h1v2h-1zM376 827h1v2h-1zM377 827h1v2h-1zM378 827h1v2h-1zM379 827h1v2h-1zM380 827h1v2h-1zM381 827h1v2h-1zM382 827h1v2h-1zM383 827h1v2h-1zM384 827h1v2h-1zM385 827h1v2h-1zM386 827h1v2h-1zM387 827h1v2h-1zM388 827h1v2h-1zM389 827h1v2h-1zM390 827h1v2h-1zM391 827h1v2h-1zM392 827h1v2h-1zM393 827h1v2h-1zM394 827h1v2h-1zM395 827h1v2h-1zM396 827h1v2h-1zM397 826h1v3h-1zM398 826h1v2h-1zM399 826h1v2h-1zM400 826h1v2h-1zM401 826h1v2h-1zM402 826h1v2h-1zM403 826h1v2h-1zM404 826h1v2h-1zM405 826h1v2h-1zM406 825h1v3h-1zM407 825h1v2h-1zM408 825h1v2h-1zM409 825h1v2h-1zM410 824h1v3h-1zM411 824h1v2h-1zM412 824h1v2h-1zM413 824h1v2h-1zM414 824h1v2h-1zM415 823h1v3h-1zM416 823h1v2h-1zM417 823h1v2h-1zM418 823h1v2h-1zM419 823h1v2h-1zM420 822h1v3h-1zM421 822h1v2h-1zM422 821h1v3h-1zM423 821h1v2h-1zM424 820h1v3h-1zM425 820h1v2h-1zM426 819h1v3h-1zM427 819h1v2h-1zM428 818h1v3h-1zM429 818h1v2h-1zM430 817h1v3h-1zM431 817h1v2h-1zM432 816h1v3h-1zM433 816h1v2h-1zM434 815h1v3h-1zM435 815h1v2h-1zM436 814h1v3h-1zM437 814h1v2h-1zM438 813h1v3h-1zM439 813h1v2h-1zM440 812h1v3h-1zM441 812h1v2h-1zM442 812h1v2h-1zM443 811h1v3h-1zM444 811h1v2h-1zM445 810h1v3h-1zM446 809h1v3h-1zM447 809h1v2h-1zM448 808h1v3h-1zM449 807h1v3h-1zM450 807h1v2h-1zM451 806h1v3h-1zM452 805h1v3h-1zM453 805h1v2h-1zM454 805h1v2h-1zM455 804h1v3h-1zM456 804h1v2h-1zM457 803h1v3h-1zM458 803h1v2h-1zM459 802h1v3h-1zM460 802h1v2h-1zM461 802h1v2h-1zM462 801h1v3h-1zM463 801h1v2h-1zM464 800h1v3h-1zM465 800h1v2h-1zM466 799h1v3h-1zM467 799h1v2h-1zM468 798h1v3h-1zM469 798h1v2h-1zM470 797h1v3h-1zM471 796h1v3h-1zM472 796h1v2h-1zM473 795h1v3h-1zM474 795h1v2h-1zM475 794h1v3h-1zM476 794h1v2h-1zM477 793h1v3h-1zM478 792h1v3h-1zM479 792h1v2h-1zM480 791h1v3h-1zM481 791h1v2h-1zM482 790h1v3h-1zM483 789h1v3h-1zM484 789h1v2h-1zM485 789h1v2h-1zM486 788h1v3h-1zM487 788h1v2h-1zM488 788h1v2h-1zM489 788h1v2h-1zM490 787h1v3h-1zM491 787h1v2h-1zM492 787h1v2h-1zM493 786h1v3h-1zM494 786h1v2h-1zM495 786h1v2h-1zM496 785h1v3h-1zM497 785h1v2h-1zM498 784h1v3h-1zM499 784h1v2h-1zM500 784h1v2h-1zM501 783h1v3h-1zM502 783h1v2h-1zM503 783h1v2h-1zM504 783h1v2h-1zM505 782h1v3h-1zM506 782h1v2h-1zM507 782h1v2h-1zM508 782h1v2h-1zM509 781h1v3h-1zM510 781h1v2h-1zM511 780h1v3h-1zM512 780h1v2h-1zM513 780h1v2h-1zM514 779h1v3h-1zM515 779h1v2h-1zM516 778h1v3h-1zM517 778h1v2h-1zM518 778h1v2h-1zM519 777h1v3h-1zM520 777h1v2h-1zM521 777h1v2h-1zM522 776h1v3h-1zM523 776h1v2h-1zM524 776h1v2h-1zM525 775h1v3h-1zM526 774h1v3h-1zM527 774h1v2h-1zM528 773h1v3h-1zM529 773h1v2h-1zM530 772h1v3h-1zM531 772h1v2h-1zM532 771h1v3h-1zM533 771h1v2h-1zM534 770h1v3h-1zM535 770h1v2h-1zM536 770h1v2h-1zM537 769h1v3h-1zM538 769h1v2h-1zM539 768h1v3h-1zM540 768h1v2h-1zM541 767h1v3h-1zM542 767h1v2h-1zM543 766h1v3h-1zM544 766h1v2h-1zM545 765h1v3h-1zM546 765h1v2h-1zM547 764h1v3h-1zM548 764h1v2h-1zM549 763h1v3h-1zM550 762h1v3h-1zM551 762h1v2h-1zM552 761h1v3h-1zM553 761h1v2h-1zM554 760h1v3h-1zM555 759h1v3h-1zM556 759h1v2h-1zM557 758h1v3h-1zM558 757h1v3h-1zM559 757h1v2h-1zM560 756h1v3h-1zM561 755h1v3h-1zM562 755h1v2h-1zM563 754h1v3h-1zM564 753h1v3h-1zM565 752h1v3h-1zM566 751h1v3h-1zM567 750h1v3h-1zM568 750h1v2h-1zM569 749h1v3h-1zM570 748h1v3h-1zM571 747h1v3h-1zM572 746h1v3h-1zM573 745h1v3h-1zM574 744h1v3h-1zM575 744h1v2h-1zM576 743h1v3h-1zM577 742h1v3h-1zM578 741h1v3h-1zM579 741h1v2h-1zM580 740h1v3h-1zM581 739h1v3h-1zM582 738h1v3h-1zM583 738h1v2h-1zM584 737h1v3h-1zM585 736h1v3h-1zM586 735h1v3h-1zM587 735h1v2h-1zM588 734h1v3h-1zM589 733h1v3h-1zM590 733h1v2h-1zM591 732h1v3h-1zM592 731h1v3h-1zM593 731h1v2h-1zM594 730h1v3h-1zM595 729h1v3h-1zM596 728h1v3h-1zM597 728h1v2h-1zM598 727h1v3h-1zM599 726h1v3h-1zM600 725h1v3h-1zM601 725h1v2h-1zM602 724h1v3h-1zM603 723h1v3h-1zM604 722h1v3h-1zM605 722h1v2h-1zM606 721h1v3h-1zM607 721h1v2h-1zM608 720h1v3h-1zM609 720h1v2h-1zM610 719h1v3h-1zM611 719h1v2h-1zM612 718h1v3h-1zM613 718h1v2h-1zM614 717h1v3h-1zM615 717h1v2h-1zM616 717h1v2h-1zM617 716h1v3h-1zM618 716h1v2h-1zM619 715h1v3h-1zM620 715h1v2h-1zM621 714h1v3h-1zM622 714h1v2h-1zM623 713h1v3h-1zM624 713h1v2h-1zM625 712h1v3h-1zM626 712h1v2h-1zM627 712h1v2h-1zM628 711h1v3h-1zM629 711h1v2h-1zM630 711h1v2h-1zM631 711h1v2h-1zM632 711h1v2h-1zM633 711h1v2h-1zM634 711h1v2h-1zM635 711h1v2h-1zM636 711h1v2h-1zM637 711h1v2h-1zM638 711h1v2h-1zM639 710h1v3h-1zM640 710h1v2h-1zM641 710h1v2h-1zM642 710h1v2h-1zM643 710h1v2h-1zM644 710h1v2h-1zM645 710h1v2h-1zM646 710h1v2h-1zM647 710h1v2h-1zM648 710h1v2h-1zM649 710h1v2h-1zM650 710h1v2h-1zM651 710h1v2h-1zM652 710h1v2h-1zM653 710h1v3h-1zM654 711h1v2h-1zM655 711h1v2h-1zM656 711h1v3h-1zM657 712h1v2h-1zM658 712h1v2h-1zM659 712h1v2h-1zM660 712h1v3h-1zM661 713h1v2h-1zM662 713h1v2h-1zM663 713h1v2h-1zM664 713h1v3h-1zM665 714h1v2h-1zM666 714h1v2h-1zM667 714h1v2h-1zM668 714h1v2h-1zM669 714h1v3h-1zM670 715h1v2h-1zM671 715h1v2h-1zM672 715h1v2h-1zM673 715h1v3h-1zM674 716h1v2h-1zM675 716h1v2h-1zM676 716h1v2h-1zM677 716h1v3h-1zM678 717h1v2h-1zM679 717h1v2h-1zM680 717h1v3h-1zM681 718h1v2h-1zM682 718h1v3h-1zM683 719h1v2h-1zM684 719h1v3h-1zM685 720h1v2h-1zM686 720h1v3h-1zM687 721h1v2h-1zM688 721h1v3h-1zM689 722h1v2h-1zM690 722h1v3h-1zM691 723h1v2h-1zM692 723h1v3h-1zM693 724h1v2h-1zM694 724h1v3h-1zM695 725h1v2h-1zM696 725h1v3h-1zM697 726h1v2h-1zM698 726h1v3h-1zM699 727h1v2h-1zM700 727h1v3h-1zM701 728h1v2h-1zM702 728h1v3h-1zM703 729h1v2h-1zM704 729h1v3h-1zM705 730h1v2h-1zM706 730h1v2h-1zM707 730h1v3h-1zM708 731h1v2h-1zM709 731h1v3h-1zM710 732h1v3h-1zM711 733h1v2h-1zM712 733h1v3h-1zM713 734h1v3h-1zM714 735h1v2h-1zM715 735h1v3h-1zM716 736h1v2h-1zM717 736h1v3h-1zM718 737h1v3h-1zM719 738h1v3h-1zM720 739h1v2h-1zM721 739h1v3h-1zM722 740h1v3h-1zM723 741h1v2h-1zM724 741h1v3h-1zM725 742h1v3h-1zM726 743h1v2h-1zM727 743h1v3h-1zM728 744h1v3h-1zM729 745h1v2h-1zM730 745h1v3h-1zM731 746h1v3h-1zM732 747h1v3h-1zM733 748h1v2h-1zM734 748h1v3h-1zM735 749h1v3h-1zM736 750h1v2h-1zM737 750h1v3h-1zM738 751h1v3h-1zM739 752h1v3h-1zM740 753h1v2h-1zM741 753h1v3h-1zM742 754h1v3h-1zM743 755h1v3h-1zM744 756h1v3h-1zM745 757h1v3h-1zM746 758h1v3h-1zM747 759h1v3h-1zM748 760h1v3h-1zM749 761h1v3h-1zM750 762h1v3h-1zM751 763h1v3h-1zM752 764h1v3h-1zM753 765h1v2h-1zM754 765h1v3h-1zM755 766h1v3h-1zM756 767h1v3h-1zM757 768h1v3h-1zM758 769h1v3h-1zM759 770h1v4h-1zM760 771h1v4h-1zM761 773h1v3h-1zM762 774h1v3h-1zM763 775h1v3h-1zM764 776h1v3h-1zM765 777h1v3h-1zM766 778h1v3h-1zM767 779h1v3h-1zM768 780h1v3h-1zM769 781h1v3h-1zM770 782h1v3h-1zM771 783h1v3h-1zM772 784h1v3h-1zM773 785h1v3h-1zM774 786h1v3h-1zM775 787h1v3h-1zM776 788h1v3h-1zM777 789h1v3h-1zM778 790h1v3h-1zM779 791h1v3h-1zM780 792h1v3h-1zM781 793h1v3h-1zM782 794h1v3h-1zM783 795h1v3h-1zM784 796h1v4h-1zM785 797h1v4h-1zM786 799h1v3h-1zM787 800h1v3h-1zM788 801h1v3h-1zM789 802h1v3h-1zM790 803h1v3h-1zM791 804h1v3h-1zM792 805h1v3h-1zM793 806h1v3h-1zM794 807h1v3h-1zM795 808h1v3h-1zM796 809h1v3h-1zM797 810h1v3h-1zM798 811h1v3h-1zM799 812h1v3h-1zM800 813h1v3h-1zM801 814h1v3h-1zM802 815h1v3h-1zM803 816h1v3h-1zM804 817h1v3h-1zM805 818h1v3h-1zM806 819h1v3h-1zM807 820h1v2h-1zM808 820h1v3h-1zM809 821h1v3h-1zM810 822h1v3h-1zM811 823h1v3h-1zM812 824h1v2h-1zM813 824h1v3h-1zM814 825h1v3h-1zM815 826h1v3h-1zM816 827h1v2h-1zM817 827h1v3h-1zM818 828h1v3h-1zM819 829h1v3h-1zM820 830h1v2h-1zM821 830h1v3h-1zM822 831h1v3h-1zM823 832h1v2h-1zM824 832h1v3h-1zM825 833h1v3h-1zM826 834h1v2h-1zM827 834h1v3h-1zM828 835h1v3h-1zM829 836h1v2h-1zM830 836h1v2h-1zM831 836h1v3h-1zM832 837h1v2h-1zM833 837h1v3h-1zM834 838h1v2h-1zM835 838h1v3h-1zM836 839h1v2h-1zM837 839h1v3h-1zM838 840h1v2h-1zM839 840h1v3h-1zM840 841h1v2h-1zM841 841h1v2h-1zM842 841h1v3h-1zM843 842h1v2h-1zM844 842h1v3h-1zM845 843h1v2h-1zM846 843h1v2h-1zM847 843h1v2h-1zM848 843h1v2h-1zM849 843h1v2h-1zM850 843h1v2h-1zM851 843h1v2h-1zM852 843h1v2h-1zM853 843h1v2h-1zM854 843h1v2h-1zM855 843h1v2h-1zM856 843h1v2h-1zM857 843h1v2h-1zM858 843h1v2h-1zM859 843h1v2h-1zM860 843h1v2h-1zM861 843h1v2h-1zM862 843h1v2h-1zM863 843h1v2h-1zM864 843h1v2h-1zM865 842h1v3h-1zM866 842h1v2h-1zM867 842h1v2h-1zM868 842h1v2h-1zM869 842h1v2h-1zM870 842h1v2h-1zM871 841h1v3h-1zM872 841h1v2h-1zM873 841h1v2h-1zM874 840h1v3h-1zM875 840h1v2h-1zM876 840h1v2h-1zM877 839h1v3h-1zM878 839h1v2h-1zM879 838h1v3h-1zM880 838h1v2h-1zM881 838h1v2h-1zM882 837h1v3h-1zM883 837h1v2h-1zM884 837h1v2h-1zM885 836h1v3h-1zM886 835h1v3h-1zM887 834h1v3h-1zM888 834h1v2h-1zM889 833h1v3h-1zM890 832h1v3h-1zM891 831h1v3h-1zM892 831h1v2h-1zM893 830h1v3h-1zM894 829h1v3h-1zM895 828h1v3h-1zM896 827h1v3h-1zM897 826h1v3h-1zM898 825h1v3h-1zM899 824h1v3h-1zM900 822h1v4h-1zM901 821h1v4h-1zM902 820h1v3h-1zM903 819h1v3h-1zM904 818h1v3h-1zM905 817h1v3h-1zM906 816h1v3h-1zM907 815h1v3h-1zM908 814h1v3h-1zM909 813h1v3h-1zM910 812h1v3h-1zM911 811h1v3h-1zM912 810h1v3h-1zM913 808h1v4h-1zM914 807h1v4h-1zM915 806h1v3h-1zM916 805h1v3h-1zM917 804h1v3h-1zM918 803h1v3h-1zM919 801h1v4h-1zM920 800h1v4h-1zM921 799h1v3h-1zM922 798h1v3h-1zM923 797h1v3h-1zM924 796h1v3h-1zM925 795h1v3h-1zM926 794h1v3h-1zM927 792h1v4h-1zM928 791h1v4h-1zM929 790h1v3h-1zM930 789h1v3h-1zM931 788h1v3h-1zM932 787h1v3h-1zM933 786h1v3h-1zM934 784h1v4h-1zM935 783h1v4h-1zM936 782h1v3h-1zM937 780h1v4h-1zM938 779h1v4h-1zM939 778h1v3h-1zM940 777h1v3h-1zM941 776h1v3h-1zM942 775h1v3h-1zM943 774h1v3h-1zM944 772h1v4h-1zM945 771h1v4h-1zM946 770h1v3h-1zM947 769h1v3h-1zM948 768h1v3h-1zM949 767h1v3h-1zM950 766h1v3h-1zM951 765h1v3h-1zM952 764h1v3h-1zM953 763h1v3h-1zM954 762h1v3h-1zM955 761h1v3h-1zM956 760h1v3h-1zM957 759h1v3h-1zM958 758h1v3h-1zM959 757h1v3h-1zM960 755h1v4h-1zM961 754h1v4h-1zM962 753h1v3h-1zM963 752h1v3h-1zM964 751h1v3h-1zM965 750h1v3h-1zM966 749h1v3h-1zM967 748h1v3h-1zM968 747h1v3h-1zM969 746h1v3h-1zM970 745h1v3h-1zM971 744h1v3h-1zM972 743h1v3h-1zM973 743h1v2h-1zM974 742h1v3h-1zM975 741h1v3h-1zM976 741h1v2h-1zM977 740h1v3h-1zM978 739h1v3h-1zM979 739h1v2h-1zM980 738h1v3h-1zM981 737h1v3h-1zM982 737h1v2h-1zM983 736h1v3h-1zM984 736h1v2h-1zM985 735h1v3h-1zM986 735h1v2h-1zM987 734h1v3h-1zM988 734h1v2h-1zM989 733h1v3h-1zM990 733h1v2h-1zM991 732h1v3h-1zM992 732h1v2h-1zM993 731h1v3h-1zM994 731h1v2h-1zM995 730h1v3h-1zM996 730h1v2h-1zM997 730h1v2h-1zM998 729h1v3h-1zM999 729h1v2h-1zM1000 729h1v2h-1zM1001 728h1v3h-1zM1002 728h1v2h-1zM1003 728h1v2h-1zM1004 727h1v3h-1zM1005 727h1v2h-1zM1006 727h1v2h-1zM1007 727h1v2h-1zM1008 727h1v2h-1zM1009 727h1v2h-1zM1010 727h1v2h-1zM1011 727h1v2h-1zM1012 727h1v2h-1zM1013 727h1v2h-1zM1014 726h1v3h-1zM1015 726h1v2h-1zM1016 726h1v2h-1zM1017 726h1v2h-1zM1018 726h1v2h-1zM1019 726h1v2h-1zM1020 726h1v2h-1zM1021 726h1v2h-1zM1022 726h1v2h-1zM1023 726h1v2h-1zM1024 726h1v2h-1zM1025 726h1v2h-1zM1026 726h1v2h-1zM1027 726h1v2h-1zM1028 726h1v2h-1zM1029 725h1v3h-1zM1030 725h1v2h-1zM1031 725h1v2h-1zM1032 725h1v2h-1zM1033 725h1v2h-1zM1034 725h1v2h-1zM1035 725h1v2h-1zM1036 725h1v2h-1zM1037 725h1v2h-1zM1038 725h1v2h-1zM1039 725h1v2h-1zM1040 725h1v2h-1zM1041 725h1v3h-1zM1042 726h1v2h-1zM1043 726h1v2h-1zM1044 726h1v2h-1zM1045 726h1v2h-1zM1046 726h1v2h-1zM1047 726h1v2h-1zM1048 726h1v2h-1zM1049 726h1v2h-1zM1050 726h1v2h-1zM1051 726h1v2h-1zM1052 726h1v2h-1zM1053 726h1v2h-1zM1054 726h1v2h-1zM1055 726h1v2h-1zM1056 726h1v3h-1zM1057 727h1v2h-1zM1058 727h1v2h-1zM1059 727h1v2h-1zM1060 727h1v2h-1zM1061 727h1v2h-1zM1062 727h1v2h-1zM1063 727h1v2h-1zM1064 727h1v3h-1zM1065 728h1v2h-1zM1066 728h1v2h-1zM1067 728h1v2h-1zM1068 728h1v2h-1zM1069 728h1v2h-1zM1070 728h1v2h-1zM1071 728h1v2h-1zM1072 728h1v2h-1zM1073 728h1v3h-1zM1074 729h1v2h-1zM1075 729h1v2h-1zM1076 729h1v2h-1zM1077 729h1v2h-1zM1078 729h1v2h-1zM1079 729h1v2h-1zM1080 729h1v3h-1zM1081 730h1v2h-1zM1082 730h1v2h-1zM1083 730h1v2h-1zM1084 730h1v2h-1zM1085 730h1v2h-1zM1086 730h1v2h-1zM1087 730h1v2h-1zM1088 730h1v2h-1zM1089 730h1v2h-1zM1090 730h1v2h-1zM1091 730h1v2h-1zM1092 730h1v2h-1zM1093 730h1v2h-1zM1094 730h1v2h-1zM1095 730h1v2h-1zM1096 730h1v2h-1zM1097 730h1v2h-1zM1098 730h1v2h-1zM1099 730h1v2h-1zM1100 730h1v2h-1zM1101 730h1v2h-1zM1102 730h1v2h-1zM1103 730h1v2h-1zM1104 730h1v2h-1zM1105 730h1v2h-1zM1106 730h1v3h-1zM1107 731h1v2h-1zM1108 731h1v2h-1zM1109 731h1v2h-1zM1110 731h1v2h-1zM1111 731h1v2h-1zM1112 731h1v2h-1zM1113 731h1v2h-1zM1114 731h1v2h-1zM1115 731h1v2h-1zM1116 731h1v2h-1zM1117 731h1v2h-1zM1118 731h1v2h-1zM1119 731h1v2h-1zM1120 731h1v2h-1zM1121 731h1v2h-1zM1122 731h1v2h-1zM1123 731h1v2h-1zM1124 731h1v2h-1zM1125 731h1v2h-1zM1126 731h1v2h-1zM1127 731h1v2h-1zM1128 731h1v2h-1zM1129 731h1v2h-1zM1130 731h1v2h-1zM1131 731h1v2h-1zM1132 731h1v2h-1zM1133 730h1v3h-1zM1134 730h1v2h-1zM1135 730h1v2h-1zM1136 729h1v3h-1zM1137 729h1v2h-1zM1138 729h1v2h-1zM1139 728h1v3h-1zM1140 728h1v2h-1zM1141 727h1v3h-1zM1142 727h1v2h-1zM1143 726h1v3h-1zM1144 726h1v2h-1zM1145 725h1v3h-1zM1146 725h1v2h-1zM1147 724h1v3h-1zM1148 724h1v2h-1zM1149 723h1v3h-1zM1150 722h1v3h-1zM1151 722h1v2h-1zM1152 721h1v3h-1zM1153 720h1v3h-1zM1154 720h1v2h-1zM1155 719h1v3h-1zM1156 718h1v3h-1zM1157 718h1v2h-1zM1158 717h1v3h-1zM1159 716h1v3h-1zM1160 716h1v2h-1zM1161 715h1v3h-1zM1162 715h1v2h-1zM1163 714h1v3h-1zM1164 714h1v2h-1zM1165 713h1v3h-1zM1166 712h1v3h-1zM1167 711h1v3h-1zM1168 711h1v2h-1zM1169 710h1v3h-1zM1170 709h1v3h-1zM1171 709h1v2h-1zM1172 708h1v3h-1zM1173 708h1v2h-1zM1174 707h1v3h-1zM1175 706h1v3h-1zM1176 706h1v2h-1zM1177 705h1v3h-1zM1178 704h1v3h-1zM1179 704h1v2h-1zM1180 703h1v3h-1zM1181 703h1v2h-1zM1182 702h1v3h-1zM1183 701h1v3h-1zM1184 700h1v3h-1zM1185 700h1v2h-1zM1186 699h1v3h-1zM1187 698h1v3h-1zM1188 698h1v2h-1zM1189 697h1v3h-1zM1190 696h1v3h-1zM1191 695h1v3h-1zM1192 695h1v2h-1zM1193 694h1v3h-1zM1194 693h1v3h-1zM1195 693h1v2h-1zM1196 692h1v3h-1zM1197 691h1v3h-1zM1198 691h1v2h-1zM1199 690h1v3h-1zM1200 689h1v3h-1zM1201 689h1v2h-1zM1202 688h1v3h-1zM1203 687h1v3h-1zM1204 687h1v2h-1zM1205 686h1v3h-1zM1206 686h1v2h-1zM1207 686h1v2h-1zM1208 685h1v3h-1zM1209 685h1v2h-1zM1210 684h1v3h-1zM1211 684h1v2h-1zM1212 684h1v2h-1zM1213 683h1v3h-1zM1214 683h1v2h-1zM1215 683h1v2h-1zM1216 682h1v3h-1zM1217 682h1v2h-1zM1218 682h1v2h-1zM1219 681h1v3h-1zM1220 681h1v2h-1zM1221 681h1v2h-1zM1222 681h1v2h-1zM1223 680h1v3h-1zM1224 680h1v2h-1zM1225 680h1v2h-1zM1226 680h1v2h-1zM1227 680h1v2h-1zM1228 679h1v3h-1zM1229 679h1v2h-1zM1230 679h1v2h-1zM1231 679h1v2h-1zM1232 679h1v2h-1zM1233 679h1v2h-1zM1234 679h1v2h-1zM1235 679h1v2h-1zM1236 678h1v3h-1zM1237 678h1v2h-1zM1238 678h1v2h-1zM1239 678h1v2h-1zM1240 678h1v2h-1zM1241 677h1v3h-1zM1242 677h1v2h-1zM1243 677h1v2h-1zM1244 677h1v2h-1zM1245 677h1v2h-1zM1246 676h1v3h-1zM1247 676h1v2h-1zM1248 676h1v2h-1zM1249 676h1v2h-1zM1250 676h1v2h-1zM1251 676h1v2h-1zM1252 676h1v2h-1zM1253 676h1v2h-1zM1254 676h1v2h-1zM1255 676h1v2h-1zM1256 676h1v2h-1zM1257 676h1v2h-1zM1258 676h1v2h-1zM1259 676h1v2h-1zM1260 676h1v2h-1zM1261 676h1v2h-1zM1262 676h1v2h-1zM1263 676h1v2h-1zM1264 676h1v2h-1zM1265 676h1v2h-1zM1266 676h1v2h-1zM1267 676h1v2h-1zM1268 676h1v2h-1zM1269 676h1v2h-1zM1270 676h1v2h-1zM1271 676h1v2h-1zM1272 676h1v2h-1zM1273 676h1v2h-1zM1274 676h1v2h-1zM1275 676h1v2h-1zM1276 676h1v2h-1zM1277 676h1v2h-1zM1278 676h1v2h-1zM1279 676h1v2h-1zM1280 676h1v2h-1zM1281 676h1v3h-1zM1282 677h1v2h-1zM1283 677h1v2h-1zM1284 677h1v2h-1zM1285 677h1v2h-1z" fill="#ff0000"/></g><g clip-path="url(#cm)" shape-rendering="crispEdges"><rect x="5" y="119" width="1618" height="3" fill="#0000cd"/><rect x="5" y="429" width="1618" height="3" fill="#0000cd"/></g><g clip-path="url(#cm)"><line x1="1295.5" y1="120.4" x2="1321.4" y2="57" stroke="#ff0000" stroke-width="5.4" stroke-linecap="round"/><polygon points="1310.4,51.9 1334.8,23.2 1332.6,60.5" fill="#ff0000"/></g><polygon points="1293,5 1302,5 1297.5,10" fill="#778899"/><g shape-rendering="crispEdges" fill="#000"><rect x="4" y="4" width="1620" height="1"/><rect x="4" y="653" width="1620" height="1"/><rect x="4" y="4" width="1" height="650"/><rect x="1623" y="4" width="1" height="650"/><rect x="4" y="655" width="1620" height="1"/><rect x="4" y="866" width="1620" height="1"/><rect x="4" y="655" width="1" height="212"/><rect x="1623" y="655" width="1" height="212"/></g><g shape-rendering="crispEdges" fill="#000"><rect x="1624" y="23" width="2" height="1"/><rect x="1624" y="56" width="2" height="1"/><rect x="1624" y="89" width="2" height="1"/><rect x="1624" y="122" width="2" height="1"/><rect x="1624" y="155" width="2" height="1"/><rect x="1624" y="188" width="2" height="1"/><rect x="1624" y="221" width="2" height="1"/><rect x="1624" y="254" width="2" height="1"/><rect x="1624" y="287" width="2" height="1"/><rect x="1624" y="320" width="2" height="1"/><rect x="1624" y="353" width="2" height="1"/><rect x="1624" y="386" width="2" height="1"/><rect x="1624" y="419" width="2" height="1"/><rect x="1624" y="452" width="2" height="1"/><rect x="1624" y="485" width="2" height="1"/><rect x="1624" y="518" width="2" height="1"/><rect x="1624" y="551" width="2" height="1"/><rect x="1624" y="584" width="2" height="1"/><rect x="1624" y="617" width="2" height="1"/><rect x="1624" y="650" width="2" height="1"/></g><g><text x="1628.5" y="27" font-size="10.0" fill="#000" text-rendering="geometricPrecision" textLength="34.0" lengthAdjust="spacingAndGlyphs">35582.5</text><text x="1628.5" y="60" font-size="10.0" fill="#000" text-rendering="geometricPrecision" textLength="33.5" lengthAdjust="spacingAndGlyphs">35485.0</text><text x="1629" y="93" font-size="10.0" fill="#000" text-rendering="geometricPrecision" textLength="33" lengthAdjust="spacingAndGlyphs">35390.0</text><text x="1629" y="126" font-size="10.0" fill="#000" text-rendering="geometricPrecision" textLength="33" lengthAdjust="spacingAndGlyphs">35295.0</text><text x="1628.5" y="159" font-size="10.0" fill="#000" text-rendering="geometricPrecision" textLength="33.5" lengthAdjust="spacingAndGlyphs">35200.0</text><text x="1628.5" y="192" font-size="10.0" fill="#000" text-rendering="geometricPrecision" textLength="34.0" lengthAdjust="spacingAndGlyphs">35102.5</text><text x="1628.5" y="225" font-size="10.0" fill="#000" text-rendering="geometricPrecision" textLength="34.0" lengthAdjust="spacingAndGlyphs">35007.5</text><text x="1628.5" y="258" font-size="10.0" fill="#000" text-rendering="geometricPrecision" textLength="34.0" lengthAdjust="spacingAndGlyphs">34912.5</text><text x="1628.5" y="291" font-size="10.0" fill="#000" text-rendering="geometricPrecision" textLength="33.5" lengthAdjust="spacingAndGlyphs">34815.0</text><text x="1628.5" y="324" font-size="10.0" fill="#000" text-rendering="geometricPrecision" textLength="33.5" lengthAdjust="spacingAndGlyphs">34720.0</text><text x="1628.5" y="357" font-size="10.0" fill="#000" text-rendering="geometricPrecision" textLength="33.5" lengthAdjust="spacingAndGlyphs">34625.0</text><text x="1628.5" y="390" font-size="10.0" fill="#000" text-rendering="geometricPrecision" textLength="34.0" lengthAdjust="spacingAndGlyphs">34527.5</text><text x="1628.5" y="423" font-size="10.0" fill="#000" text-rendering="geometricPrecision" textLength="34.0" lengthAdjust="spacingAndGlyphs">34432.5</text><text x="1628.5" y="456" font-size="10.0" fill="#000" text-rendering="geometricPrecision" textLength="34.0" lengthAdjust="spacingAndGlyphs">34337.5</text><text x="1628.5" y="489" font-size="10.0" fill="#000" text-rendering="geometricPrecision" textLength="33.5" lengthAdjust="spacingAndGlyphs">34240.0</text><text x="1628.5" y="522" font-size="10.0" fill="#000" text-rendering="geometricPrecision" textLength="33.5" lengthAdjust="spacingAndGlyphs">34145.0</text><text x="1628.5" y="555" font-size="10.0" fill="#000" text-rendering="geometricPrecision" textLength="33.5" lengthAdjust="spacingAndGlyphs">34050.0</text><text x="1628.5" y="588" font-size="10.0" fill="#000" text-rendering="geometricPrecision" textLength="34.0" lengthAdjust="spacingAndGlyphs">33952.5</text><text x="1628.5" y="621" font-size="10.0" fill="#000" text-rendering="geometricPrecision" textLength="34.0" lengthAdjust="spacingAndGlyphs">33857.5</text><text x="1628.5" y="654" font-size="10.0" fill="#000" text-rendering="geometricPrecision" textLength="34.0" lengthAdjust="spacingAndGlyphs">33762.5</text></g><g shape-rendering="crispEdges"><rect x="1625" y="84" width="41" height="11" fill="#000"/><rect x="1625" y="114" width="41" height="11" fill="#0000cd"/><rect x="1625" y="424" width="41" height="11" fill="#0000cd"/></g><text x="1628.5" y="93" font-size="10.0" fill="#fff" text-rendering="geometricPrecision" textLength="34.0" lengthAdjust="spacingAndGlyphs">35389.5</text><text x="1628.5" y="123" font-size="10.0" fill="#fff" text-rendering="geometricPrecision" textLength="33.5" lengthAdjust="spacingAndGlyphs">35300.0</text><text x="1628.5" y="433" font-size="10.0" fill="#fff" text-rendering="geometricPrecision" textLength="33.5" lengthAdjust="spacingAndGlyphs">34400.0</text><g shape-rendering="crispEdges" fill="#000"><rect x="1624" y="657" width="2" height="1"/><rect x="1624" y="779" width="2" height="1"/><rect x="1624" y="865" width="2" height="1"/></g><text x="1626.5" y="666" font-size="10.0" fill="#000" text-rendering="geometricPrecision" textLength="29.0" lengthAdjust="spacingAndGlyphs">228.86</text><text x="1626.5" y="783" font-size="10.0" fill="#000" text-rendering="geometricPrecision" textLength="19.0" lengthAdjust="spacingAndGlyphs">0.00</text><text x="1626.5" y="863" font-size="10.0" fill="#000" text-rendering="geometricPrecision" textLength="32.0" lengthAdjust="spacingAndGlyphs">-163.06</text><polygon points="8,11 15,11 11.5,14.5" fill="#000"/><text x="19.0" y="16" font-size="10.0" fill="#000" text-rendering="geometricPrecision" textLength="40.5" lengthAdjust="spacingAndGlyphs">DJ30-,H4</text><text x="64.5" y="16" font-size="10.0" fill="#000" text-rendering="geometricPrecision" textLength="33.9" lengthAdjust="spacingAndGlyphs">35488.0</text><text x="100.6" y="16" font-size="10.0" fill="#000" text-rendering="geometricPrecision" textLength="33.4" lengthAdjust="spacingAndGlyphs">35511.0</text><text x="136.5" y="16" font-size="10.0" fill="#000" text-rendering="geometricPrecision" textLength="33.9" lengthAdjust="spacingAndGlyphs">35388.0</text><text x="172.4" y="16" font-size="10.0" fill="#000" text-rendering="geometricPrecision" textLength="34.1" lengthAdjust="spacingAndGlyphs">35389.5</text><text x="8.0" y="668" font-size="10.0" fill="#000" text-rendering="geometricPrecision" textLength="129.5" lengthAdjust="spacingAndGlyphs">MACD(12,26,9) 171.74 188.78</text><g shape-rendering="crispEdges" fill="#000"><rect x="5" y="867" width="1" height="3"/><rect x="69" y="867" width="1" height="3"/><rect x="133" y="867" width="1" height="3"/><rect x="197" y="867" width="1" height="3"/><rect x="261" y="867" width="1" height="3"/><rect x="325" y="867" width="1" height="3"/><rect x="389" y="867" width="1" height="3"/><rect x="453" y="867" width="1" height="3"/><rect x="517" y="867" width="1" height="3"/><rect x="581" y="867" width="1" height="3"/><rect x="645" y="867" width="1" height="3"/><rect x="709" y="867" width="1" height="3"/><rect x="773" y="867" width="1" height="3"/><rect x="837" y="867" width="1" height="3"/><rect x="901" y="867" width="1" height="3"/><rect x="965" y="867" width="1" height="3"/><rect x="1029" y="867" width="1" height="3"/><rect x="1093" y="867" width="1" height="3"/><rect x="1157" y="867" width="1" height="3"/><rect x="1221" y="867" width="1" height="3"/><rect x="1285" y="867" width="1" height="3"/></g><g><text x="4.0" y="879" font-size="10.0" fill="#000" text-rendering="geometricPrecision" textLength="50.5" lengthAdjust="spacingAndGlyphs">15 Jun 2023</text><text x="68.0" y="879" font-size="10.0" fill="#000" text-rendering="geometricPrecision" textLength="53.4" lengthAdjust="spacingAndGlyphs">16 Jun 08:00</text><text x="132.0" y="879" font-size="10.0" fill="#000" text-rendering="geometricPrecision" textLength="53.4" lengthAdjust="spacingAndGlyphs">19 Jun 16:00</text><text x="195.5" y="879" font-size="10.0" fill="#000" text-rendering="geometricPrecision" textLength="54.0" lengthAdjust="spacingAndGlyphs">21 Jun 00:00</text><text x="259.5" y="879" font-size="10.0" fill="#000" text-rendering="geometricPrecision" textLength="54.0" lengthAdjust="spacingAndGlyphs">22 Jun 08:00</text><text x="323.5" y="879" font-size="10.0" fill="#000" text-rendering="geometricPrecision" textLength="54.0" lengthAdjust="spacingAndGlyphs">23 Jun 16:00</text><text x="387.5" y="879" font-size="10.0" fill="#000" text-rendering="geometricPrecision" textLength="54.0" lengthAdjust="spacingAndGlyphs">27 Jun 00:00</text><text x="451.5" y="879" font-size="10.0" fill="#000" text-rendering="geometricPrecision" textLength="54.0" lengthAdjust="spacingAndGlyphs">28 Jun 08:00</text><text x="515.5" y="879" font-size="10.0" fill="#000" text-rendering="geometricPrecision" textLength="54.0" lengthAdjust="spacingAndGlyphs">29 Jun 16:00</text><text x="579.5" y="879" font-size="10.0" fill="#000" text-rendering="geometricPrecision" textLength="46.0" lengthAdjust="spacingAndGlyphs">3 Jul 00:00</text><text x="643.5" y="879" font-size="10.0" fill="#000" text-rendering="geometricPrecision" textLength="46.0" lengthAdjust="spacingAndGlyphs">4 Jul 08:00</text><text x="707.5" y="879" font-size="10.0" fill="#000" text-rendering="geometricPrecision" textLength="46.0" lengthAdjust="spacingAndGlyphs">5 Jul 16:00</text><text x="771.0" y="879" font-size="10.0" fill="#000" text-rendering="geometricPrecision" textLength="46.5" lengthAdjust="spacingAndGlyphs">7 Jul 00:00</text><text x="836.0" y="879" font-size="10.0" fill="#000" text-rendering="geometricPrecision" textLength="50.5" lengthAdjust="spacingAndGlyphs">10 Jul 08:00</text><text x="900.0" y="879" font-size="10.0" fill="#000" text-rendering="geometricPrecision" textLength="50.5" lengthAdjust="spacingAndGlyphs">11 Jul 16:00</text><text x="964.0" y="879" font-size="10.0" fill="#000" text-rendering="geometricPrecision" textLength="50.5" lengthAdjust="spacingAndGlyphs">13 Jul 00:00</text><text x="1028.0" y="879" font-size="10.0" fill="#000" text-rendering="geometricPrecision" textLength="50.5" lengthAdjust="spacingAndGlyphs">14 Jul 08:00</text><text x="1092.0" y="879" font-size="10.0" fill="#000" text-rendering="geometricPrecision" textLength="50.5" lengthAdjust="spacingAndGlyphs">17 Jul 16:00</text><text x="1156.0" y="879" font-size="10.0" fill="#000" text-rendering="geometricPrecision" textLength="50.5" lengthAdjust="spacingAndGlyphs">19 Jul 00:00</text><text x="1219.5" y="879" font-size="10.0" fill="#000" text-rendering="geometricPrecision" textLength="51.0" lengthAdjust="spacingAndGlyphs">20 Jul 08:00</text><text x="1283.5" y="879" font-size="10.0" fill="#000" text-rendering="geometricPrecision" textLength="51.0" lengthAdjust="spacingAndGlyphs">21 Jul 16:00</text></g></svg></body></html>
